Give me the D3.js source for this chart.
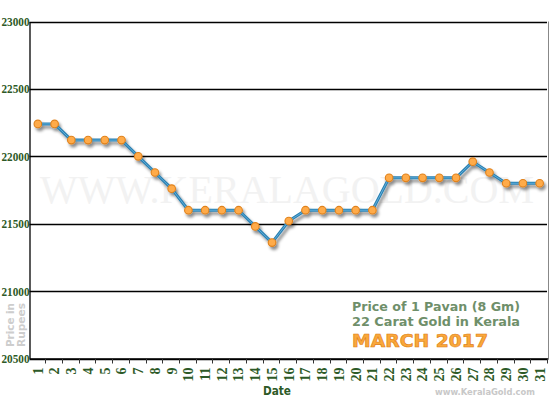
<!DOCTYPE html>
<html>
<head>
<meta charset="utf-8">
<script src="https://cdn.jsdelivr.net/npm/d3@7"></script>
<style>
  body { margin: 0; background: #fff; }
  svg { display: block; }
</style>
</head>
<body>
<div id="chart"></div>
<script>
(() => {
const days = d3.range(1, 32).map(String);

const prices = [
  22240, 22240, 22120, 22120, 22120, 22120, 22000, 21880, 21760, 21600,
  21600, 21600, 21600, 21480, 21360, 21520, 21600, 21600, 21600, 21600,
  21600, 21840, 21840, 21840, 21840, 21840, 21960, 21880, 21800, 21800,
  21800
];

const yTicks = [20500, 21000, 21500, 22000, 22500, 23000];

const titleLines = ["Price of 1 Pavan (8 Gm)", "22 Carat Gold in Kerala"];
const monthLabel = "MARCH 2017";

const green = "#2d5a27";

const width = 550;
const height = 400;
const margin = { top: 21, right: 2, bottom: 42, left: 29.5 };

const svg = d3.select("#chart")
  .append("svg")
  .attr("width", width)
  .attr("height", height);

const defs = svg.append("defs");

// ombre sous la ligne et les points
const shadow = defs.append("filter")
  .attr("id", "shadow")
  .attr("x", "-20%").attr("y", "-20%")
  .attr("width", "140%").attr("height", "160%");
shadow.append("feDropShadow")
  .attr("dx", 2).attr("dy", 3)
  .attr("stdDeviation", 1.6)
  .attr("flood-color", "#000")
  .attr("flood-opacity", 0.45);

const x = d3.scaleBand()
  .domain(days)
  .range([margin.left, 548])
  .padding(0);

const y = d3.scaleLinear()
  .domain([20500, 23000])
  .range([358.5, margin.top + 0.5]);

// watermark
svg.append("text")
  .attr("x", 40)
  .attr("y", 203)
  .attr("textLength", 494)
  .attr("lengthAdjust", "spacingAndGlyphs")
  .style("font-family", "'Liberation Serif', serif")
  .style("font-size", "41px")
  .style("fill", "#f2f2f2")
  .text("WWW.KERALAGOLD.COM");

// lignes horizontales
svg.append("g")
  .selectAll("line")
  .data(yTicks)
  .enter()
  .append("line")
  .attr("x1", margin.left)
  .attr("x2", 547)
  .attr("y1", d => Math.round(y(d)) + 0.5)
  .attr("y2", d => Math.round(y(d)) + 0.5)
  .attr("stroke", "#000")
  .attr("stroke-width", 1.3);

// bord droit
svg.append("line")
  .attr("x1", 548.5).attr("x2", 548.5)
  .attr("y1", y(23000)).attr("y2", y(20500))
  .attr("stroke", "#888");

// axe Y
const yAxis = svg.append("g")
  .attr("transform", `translate(${margin.left},0)`)
  .call(d3.axisLeft(y).tickValues(yTicks).tickSize(0).tickPadding(0).tickFormat(d3.format("d")));
yAxis.select(".domain").attr("stroke", "#000").attr("stroke-width", 1.3);
yAxis.selectAll("text")
  .attr("textLength", 28)
  .attr("lengthAdjust", "spacingAndGlyphs")
  .style("font-family", "'Liberation Serif', serif")
  .style("font-size", "12.5px")
  .style("font-weight", "bold")
  .style("fill", green);

// axe X
const xAxis = svg.append("g")
  .attr("transform", `translate(0,${y(20500)})`)
  .call(d3.axisBottom(x).tickSize(0).tickPadding(0));
xAxis.select(".domain").attr("stroke", "#000").attr("stroke-width", 1.3);
xAxis.selectAll("text")
  .attr("transform", "rotate(-90)")
  .attr("x", -9)
  .attr("y", 0)
  .attr("dy", "0.35em")
  .style("text-anchor", "end")
  .style("font-family", "'Liberation Serif', serif")
  .style("font-size", "14px")
  .style("font-weight", "bold")
  .style("fill", green);

// petites graduations entre les jours
xAxis.append("g")
  .selectAll("line")
  .data(days)
  .enter()
  .append("line")
  .attr("x1", d => Math.round(x(d) + x.bandwidth()) - 0.5)
  .attr("x2", d => Math.round(x(d) + x.bandwidth()) - 0.5)
  .attr("y1", 0)
  .attr("y2", 5)
  .attr("stroke", "#333");

svg.append("text")
  .attr("x", 277)
  .attr("y", 395)
  .attr("text-anchor", "middle")
  .attr("textLength", 28)
  .attr("lengthAdjust", "spacingAndGlyphs")
  .style("font-family", "'DejaVu Sans', sans-serif")
  .style("font-size", "12px")
  .style("font-weight", "bold")
  .style("fill", green)
  .text("Date");

// titre axe Y
["Price in", "Rupees"].forEach((t, i) => {
  svg.append("text")
    .attr("transform", `translate(${14 + i * 11},325) rotate(-90)`)
    .attr("text-anchor", "middle")
    .attr("textLength", 44)
    .attr("lengthAdjust", "spacingAndGlyphs")
    .style("font-family", "'DejaVu Sans', sans-serif")
    .style("font-size", "11px")
    .style("font-weight", "bold")
    .style("fill", "#cdcdcd")
    .text(t);
});

// ligne des prix
const line = d3.line()
  .x((d, i) => x(days[i]) + x.bandwidth() / 2)
  .y(d => y(d));

const plot = svg.append("g").attr("filter", "url(#shadow)");

plot.append("path")
  .datum(prices)
  .attr("d", line)
  .attr("fill", "none")
  .attr("stroke", "#2a7fb0")
  .attr("stroke-width", 3)
  .attr("stroke-linejoin", "round");

plot.append("path")
  .datum(prices)
  .attr("d", line)
  .attr("fill", "none")
  .attr("stroke", "#5fb0dd")
  .attr("stroke-width", 1)
  .attr("stroke-linejoin", "round");

plot.selectAll("circle")
  .data(prices)
  .enter()
  .append("circle")
  .attr("cx", (d, i) => x(days[i]) + x.bandwidth() / 2)
  .attr("cy", d => y(d))
  .attr("r", 3.8)
  .attr("fill", "#ffab4a")
  .attr("stroke", "#e0821c")
  .attr("stroke-width", 1.1);

// légende
const legend = svg.append("g")
  .style("font-family", "'DejaVu Sans', sans-serif")
  .style("font-weight", "bold");

titleLines.forEach((t, i) => {
  legend.append("text")
    .attr("x", 352)
    .attr("y", 311 + i * 15)
    .attr("textLength", 168)
    .attr("lengthAdjust", "spacingAndGlyphs")
    .style("font-size", "12px")
    .style("fill", "#6f8f6a")
    .text(t);
});

legend.append("text")
  .attr("x", 352)
  .attr("y", 347)
  .attr("textLength", 136)
  .attr("lengthAdjust", "spacingAndGlyphs")
  .style("font-size", "17px")
  .style("fill", "#f9a83c")
  .style("stroke", "#e07d10")
  .style("stroke-width", 0.6)
  .text(monthLabel);

legend.append("text")
  .attr("x", 535)
  .attr("y", 395)
  .attr("text-anchor", "end")
  .attr("textLength", 100)
  .attr("lengthAdjust", "spacingAndGlyphs")
  .style("font-size", "9px")
  .style("fill", "#c8c8c8")
  .text("www.KeralaGold.com");
})();
</script>
</body>
</html>
